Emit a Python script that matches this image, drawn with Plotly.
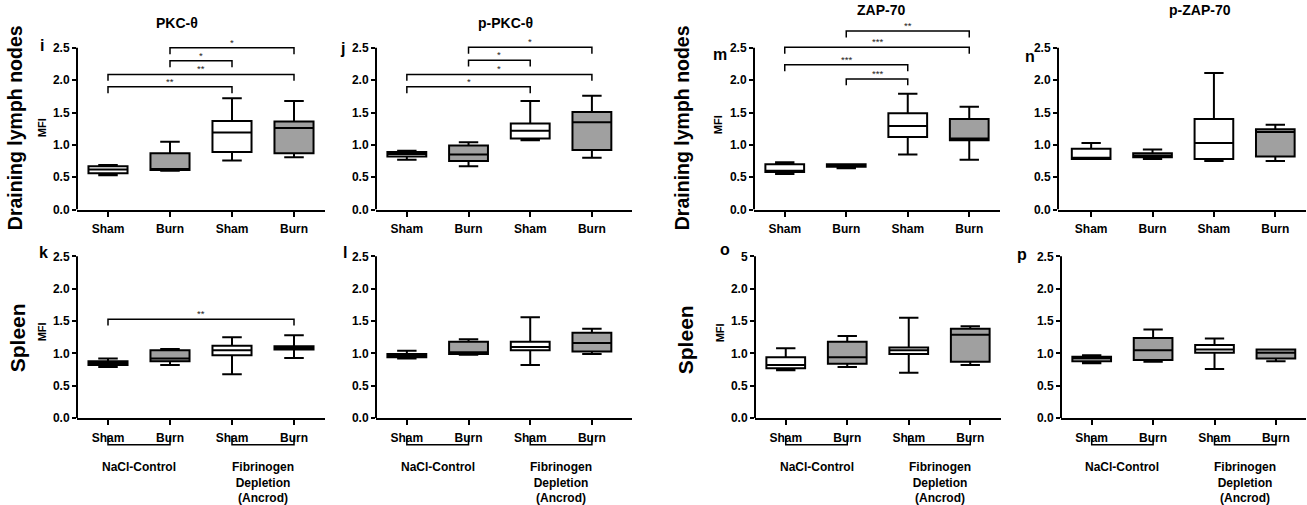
import plotly.graph_objects as go

W, H = 1307, 505

# ---------------- data ----------------
groups = ["Sham", "Burn", "Sham", "Burn"]
treatments = ["NaCl-Control", "Fibrinogen<br>Depletion<br>(Ancrod)"]
y_ticks = [0.0, 0.5, 1.0, 1.5, 2.0, 2.5]

# i: PKC-θ, draining lymph nodes
pkc_ln_min = [0.53, 0.60, 0.76, 0.81]
pkc_ln_q1 = [0.56, 0.61, 0.89, 0.87]
pkc_ln_med = [0.62, 0.62, 1.19, 1.26]
pkc_ln_q3 = [0.67, 0.87, 1.37, 1.36]
pkc_ln_max = [0.69, 1.05, 1.72, 1.68]

# j: p-PKC-θ, draining lymph nodes
ppkc_ln_min = [0.77, 0.67, 1.07, 0.80]
ppkc_ln_q1 = [0.82, 0.75, 1.10, 0.92]
ppkc_ln_med = [0.86, 0.85, 1.22, 1.35]
ppkc_ln_q3 = [0.89, 0.99, 1.33, 1.51]
ppkc_ln_max = [0.91, 1.04, 1.68, 1.76]

# m: ZAP-70, draining lymph nodes
zap_ln_min = [0.55, 0.64, 0.85, 0.77]
zap_ln_q1 = [0.58, 0.66, 1.12, 1.07]
zap_ln_med = [0.60, 0.68, 1.29, 1.10]
zap_ln_q3 = [0.70, 0.70, 1.49, 1.40]
zap_ln_max = [0.73, 0.70, 1.79, 1.59]

# n: p-ZAP-70, draining lymph nodes
pzap_ln_min = [0.78, 0.78, 0.75, 0.75]
pzap_ln_q1 = [0.78, 0.81, 0.78, 0.82]
pzap_ln_med = [0.80, 0.83, 1.03, 1.20]
pzap_ln_q3 = [0.94, 0.87, 1.40, 1.24]
pzap_ln_max = [1.03, 0.93, 2.11, 1.31]

# k: PKC-θ, spleen
pkc_sp_min = [0.79, 0.82, 0.68, 0.93]
pkc_sp_q1 = [0.82, 0.88, 0.97, 1.06]
pkc_sp_med = [0.85, 0.92, 1.05, 1.09]
pkc_sp_q3 = [0.88, 1.05, 1.12, 1.11]
pkc_sp_max = [0.92, 1.07, 1.25, 1.28]

# l: p-PKC-θ, spleen
ppkc_sp_min = [0.92, 0.98, 0.82, 0.99]
ppkc_sp_q1 = [0.94, 0.99, 1.05, 1.03]
ppkc_sp_med = [0.97, 1.02, 1.10, 1.16]
ppkc_sp_q3 = [0.99, 1.18, 1.18, 1.32]
ppkc_sp_max = [1.04, 1.22, 1.56, 1.38]

# o: ZAP-70, spleen
zap_sp_min = [0.74, 0.79, 0.70, 0.82]
zap_sp_q1 = [0.77, 0.84, 0.99, 0.87]
zap_sp_med = [0.82, 0.94, 1.05, 1.29]
zap_sp_q3 = [0.94, 1.18, 1.09, 1.38]
zap_sp_max = [1.08, 1.27, 1.55, 1.42]

# p: p-ZAP-70, spleen
pzap_sp_min = [0.85, 0.87, 0.76, 0.88]
pzap_sp_q1 = [0.88, 0.90, 1.01, 0.92]
pzap_sp_med = [0.92, 1.05, 1.06, 1.01]
pzap_sp_q3 = [0.95, 1.24, 1.13, 1.06]
pzap_sp_max = [0.97, 1.37, 1.23, 1.06]

# significance brackets: (from group, to group, height, label)
pkc_ln_sig = [(1, 3, 2.50, "*"), (1, 2, 2.30, "*"), (0, 3, 2.09, "**"), (0, 2, 1.90, "**")]
ppkc_ln_sig = [(1, 3, 2.51, "*"), (1, 2, 2.31, "*"), (0, 3, 2.09, "*"), (0, 2, 1.90, "*")]
zap_ln_sig = [(1, 3, 2.76, "**"), (0, 3, 2.51, "***"), (0, 2, 2.24, "***"), (1, 2, 2.02, "***")]
pkc_sp_sig = [(0, 3, 1.53, "**")]

# ---------------- layout helpers ----------------
FONT = "Arial, Liberation Sans, sans-serif"
GRAY = "#a0a0a0"
positions = list(range(len(groups)))


def px(x):
    return x / W


def py(y):
    return 1 - y / H


TOP_DOM = [py(212.5), py(22.3)]
BOT_DOM = [py(424), py(253.4)]
TOP_RANGE = [0, 2.9]
BOT_RANGE = [0, 2.6]

panels = [
    dict(stats=(pkc_ln_min, pkc_ln_q1, pkc_ln_med, pkc_ln_q3, pkc_ln_max), sig=pkc_ln_sig,
         xpx=(77, 325), xr=(-0.5, 3.5), row="top", top_label="2.5"),
    dict(stats=(ppkc_ln_min, ppkc_ln_q1, ppkc_ln_med, ppkc_ln_q3, ppkc_ln_max), sig=ppkc_ln_sig,
         xpx=(376, 632), xr=(-0.5, 3.65), row="top", top_label="2.5"),
    dict(stats=(zap_ln_min, zap_ln_q1, zap_ln_med, zap_ln_q3, zap_ln_max), sig=zap_ln_sig,
         xpx=(754, 1000), xr=(-0.5, 3.5), row="top", top_label="2.5"),
    dict(stats=(pzap_ln_min, pzap_ln_q1, pzap_ln_med, pzap_ln_q3, pzap_ln_max), sig=[],
         xpx=(1058, 1306), xr=(-0.54, 3.5), row="top", top_label="2.5"),
    dict(stats=(pkc_sp_min, pkc_sp_q1, pkc_sp_med, pkc_sp_q3, pkc_sp_max), sig=pkc_sp_sig,
         xpx=(77, 325), xr=(-0.5, 3.5), row="bot", top_label="2.5"),
    dict(stats=(ppkc_sp_min, ppkc_sp_q1, ppkc_sp_med, ppkc_sp_q3, ppkc_sp_max), sig=[],
         xpx=(376, 632), xr=(-0.5, 3.65), row="bot", top_label="2.5"),
    dict(stats=(zap_sp_min, zap_sp_q1, zap_sp_med, zap_sp_q3, zap_sp_max), sig=[],
         xpx=(755, 1001), xr=(-0.5, 3.5), row="bot", top_label="5"),
    dict(stats=(pzap_sp_min, pzap_sp_q1, pzap_sp_med, pzap_sp_q3, pzap_sp_max), sig=[],
         xpx=(1061, 1306), xr=(-0.5, 3.49), row="bot", top_label="2.5"),
]

fig = go.Figure()
layout = dict(
    width=W, height=H, margin=dict(l=0, r=0, t=0, b=0),
    paper_bgcolor="white", plot_bgcolor="rgba(0,0,0,0)",
    showlegend=False, font=dict(family=FONT, color="black"),
)
shapes = []
annotations = []
LEG = 0.1

for k, p in enumerate(panels, start=1):
    suf = "" if k == 1 else str(k)
    xa, ya = f"x{suf}", f"y{suf}"
    xname, yname = f"xaxis{suf}", f"yaxis{suf}"
    mn, q1, md, q3, mx = p["stats"]
    for idxs, fill in (([0, 2], "white"), ([1, 3], GRAY)):
        fig.add_trace(go.Box(
            x=[positions[i] for i in idxs],
            q1=[q1[i] for i in idxs], median=[md[i] for i in idxs], q3=[q3[i] for i in idxs],
            lowerfence=[mn[i] for i in idxs], upperfence=[mx[i] for i in idxs],
            fillcolor=fill, line=dict(color="black", width=2),
            width=0.63, whiskerwidth=0.5, boxpoints=False,
            xaxis=xa, yaxis=ya, hoverinfo="skip",
        ))
    for a, b, h, lab in p["sig"]:
        fig.add_trace(go.Scatter(
            x=[positions[a], positions[a], positions[b], positions[b]],
            y=[h - LEG, h, h, h - LEG], mode="lines",
            line=dict(color="black", width=1.5), xaxis=xa, yaxis=ya, hoverinfo="skip",
        ))
        annotations.append(dict(
            x=(positions[a] + positions[b]) / 2, y=h, xref=xa, yref=ya, text=lab,
            showarrow=False, yanchor="bottom", yshift=-2,
            font=dict(size=9.5, color="#222222", family=FONT),
        ))
    dom = TOP_DOM if p["row"] == "top" else BOT_DOM
    yr = TOP_RANGE if p["row"] == "top" else BOT_RANGE
    layout[xname] = dict(
        domain=[px(p["xpx"][0]), px(p["xpx"][1])], range=list(p["xr"]), anchor=ya,
        tickmode="array", tickvals=positions, ticktext=groups,
        showline=True, linecolor="black", linewidth=2,
        ticks="outside", ticklen=5, tickwidth=2, tickcolor="black",
        ticklabelstandoff=2,
        showgrid=False, zeroline=False, fixedrange=True,
        tickfont=dict(size=12, family=FONT, weight="bold", color="black"),
    )
    ticktext = [f"{v:.1f}" for v in y_ticks]
    ticktext[-1] = p["top_label"]
    layout[yname] = dict(
        domain=dom, range=yr, anchor=xa,
        tickmode="array", tickvals=y_ticks, ticktext=ticktext,
        showline=False, ticks="outside", ticklen=4, tickwidth=2, tickcolor="black",
        showgrid=False, zeroline=False, fixedrange=True,
        tickfont=dict(size=12, family=FONT, weight="bold", color="black"),
    )
    # vertical axis line from 0 to 2.5 only
    shapes.append(dict(type="line", xref=f"{xa} domain", x0=0, x1=0, yref=ya,
                       y0=y_ticks[0], y1=y_ticks[-1], line=dict(color="black", width=2)))
    # treatment brackets under bottom-row panels
    if p["row"] == "bot":
        for t, (a, b) in enumerate([(0, 1), (2, 3)]):
            shapes.append(dict(
                type="path", xref=xa, yref="paper",
                path=f"M {positions[a]},{py(442)} L {positions[a]},{py(451)} "
                     f"L {positions[b]},{py(451)} L {positions[b]},{py(442)}",
                line=dict(color="black", width=1.5),
            ))
            annotations.append(dict(
                x=(positions[a] + positions[b]) / 2, y=py(464.5), xref=xa, yref="paper",
                text=treatments[t], showarrow=False, yanchor="top", align="center",
                font=dict(size=12, family=FONT, weight="bold", color="black"),
            ))


def txt(x, y, text, size, bold=True, angle=0):
    annotations.append(dict(
        x=px(x), y=py(y), xref="paper", yref="paper", text=text, showarrow=False,
        xanchor="center", yanchor="middle", textangle=angle,
        font=dict(size=size, family=FONT, weight="bold" if bold else "normal", color="black"),
    ))


# column titles
txt(177, 23, "PKC-θ", 14)
txt(505, 23, "p-PKC-θ", 14)
txt(881, 10, "ZAP-70", 14)
txt(1200, 10, "p-ZAP-70", 14)
# row labels
txt(15, 130, "Draining lymph nodes", 19.5, angle=-90)
txt(682, 129, "Draining lymph nodes", 19.5, angle=-90)
txt(17, 343, "Spleen", 21, angle=-90)
txt(685, 345, "Spleen", 21, angle=-90)
# MFI labels
for x, y in [(42, 130), (718, 127), (42, 337), (720, 338)]:
    txt(x, y, "MFI", 11, angle=-90)
# panel letters
for x, y, letter in [(42, 46, "i"), (342, 49, "j"), (720, 55, "m"), (1030, 57, "n"),
                     (43, 256, "k"), (345, 256, "l"), (725, 253, "o"), (1022, 258, "p")]:
    txt(x, y, letter, 16)

layout["shapes"] = shapes
layout["annotations"] = annotations
fig.update_layout(**layout)
fig.write_html("out.html")
